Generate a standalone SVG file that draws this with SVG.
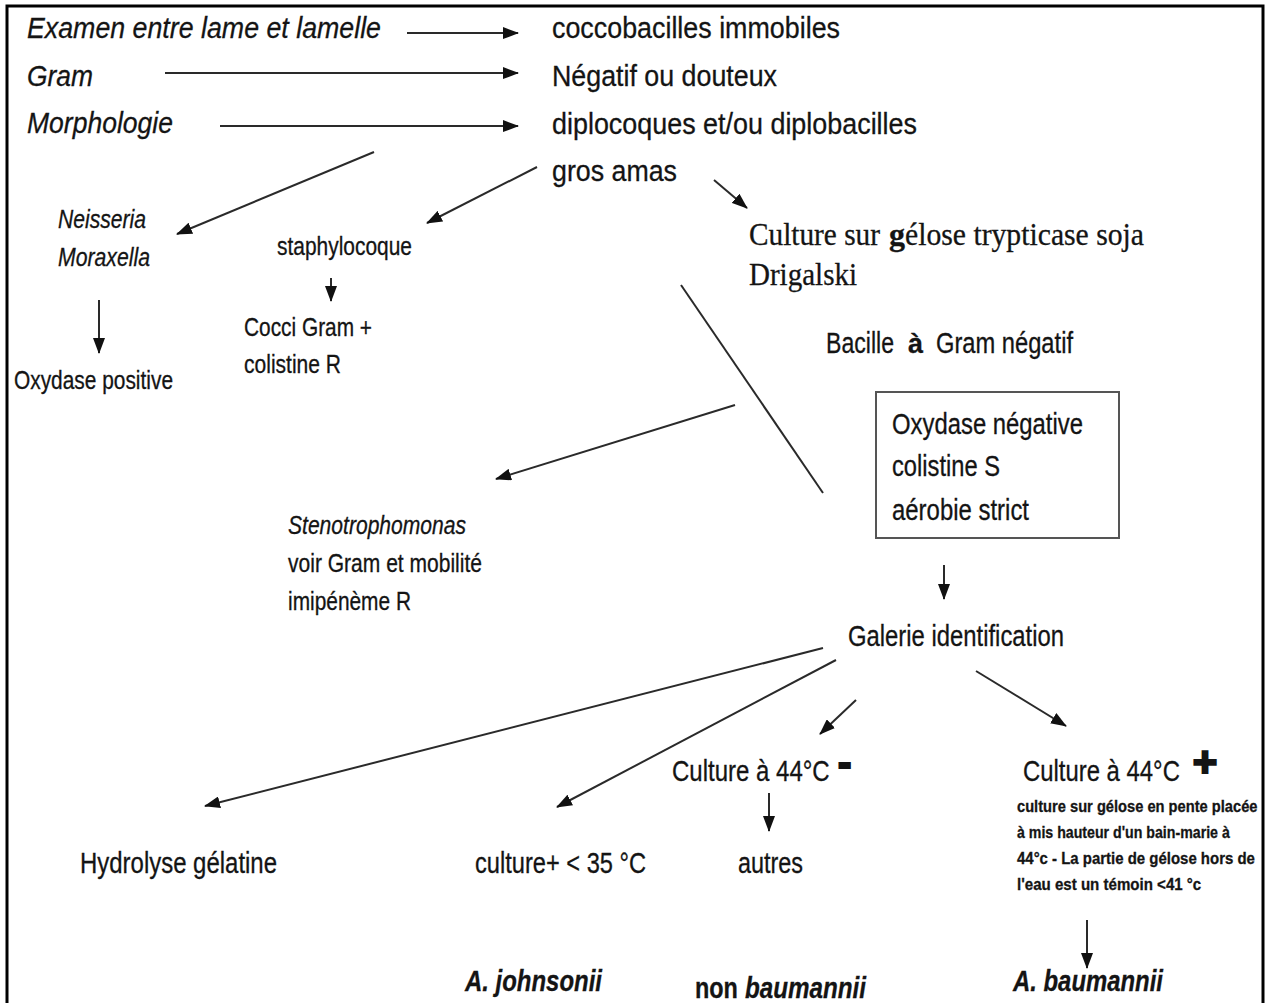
<svg xmlns="http://www.w3.org/2000/svg" width="1268" height="1003" viewBox="0 0 1268 1003">
<defs>
<style>
text{font-family:"Liberation Sans",Arial,sans-serif;fill:#141414;stroke:#141414;stroke-width:0.3;}
.i{font-style:italic;}
.b{font-weight:bold;}
.serif{font-family:"Liberation Serif","Times New Roman",serif;}
.sym{stroke-width:2.2;}
.c line{stroke:#2a2a2a;stroke-width:2;}
.arr{marker-end:url(#ah);}
</style>
<marker id="ah" viewBox="0 0 16 12" refX="15" refY="6" markerWidth="16" markerHeight="12" markerUnits="userSpaceOnUse" orient="auto">
<path d="M0,0 L16,6 L0,12 z" fill="#111"/>
</marker>
</defs>
<rect x="0" y="0" width="1268" height="1003" fill="#fff"/>
<rect x="7" y="6" width="1256" height="1010" fill="none" stroke="#000" stroke-width="3"/>

<g id="connectors" class="c">
<line class="arr" x1="407" y1="33" x2="518" y2="33"/>
<line class="arr" x1="165" y1="73" x2="518" y2="73"/>
<line class="arr" x1="220" y1="126" x2="518" y2="126"/>
<line class="arr" x1="374" y1="152" x2="177" y2="234"/>
<line class="arr" x1="537" y1="167" x2="427" y2="223"/>
<line class="arr" x1="714" y1="180" x2="747" y2="208"/>
<line class="arr" x1="99" y1="300" x2="99" y2="353"/>
<line class="arr" x1="331" y1="278" x2="331" y2="301"/>
<line x1="681" y1="285" x2="823" y2="493"/>
<line class="arr" x1="735" y1="405" x2="496" y2="479"/>
<line class="arr" x1="944" y1="565" x2="944" y2="599"/>
<line class="arr" x1="823" y1="648" x2="205" y2="806"/>
<line class="arr" x1="836" y1="660" x2="557" y2="807"/>
<line class="arr" x1="856" y1="700" x2="820" y2="734"/>
<line class="arr" x1="976" y1="671" x2="1066" y2="726"/>
<line class="arr" x1="769" y1="793" x2="769" y2="831"/>
<line class="arr" x1="1087" y1="920" x2="1087" y2="968"/>
</g>

<g id="n-examen"><text class="i" x="27" y="38" font-size="30" textLength="354" lengthAdjust="spacingAndGlyphs">Examen entre lame et lamelle</text></g>
<g id="n-gram"><text class="i" x="27" y="86" font-size="30" textLength="66" lengthAdjust="spacingAndGlyphs">Gram</text></g>
<g id="n-morpho"><text class="i" x="27" y="133" font-size="30" textLength="146" lengthAdjust="spacingAndGlyphs">Morphologie</text></g>
<g id="n-cocco"><text x="552" y="38" font-size="30" textLength="288" lengthAdjust="spacingAndGlyphs">coccobacilles immobiles</text></g>
<g id="n-negatif"><text x="552" y="86" font-size="30" textLength="225" lengthAdjust="spacingAndGlyphs">Négatif ou douteux</text></g>
<g id="n-diplo"><text x="552" y="134" font-size="30" textLength="365" lengthAdjust="spacingAndGlyphs">diplocoques et/ou diplobacilles</text></g>
<g id="n-gros"><text x="552" y="181" font-size="30" textLength="125" lengthAdjust="spacingAndGlyphs">gros amas</text></g>

<g id="n-neisseria">
<text class="i" x="58" y="228" font-size="25" textLength="88" lengthAdjust="spacingAndGlyphs">Neisseria</text>
<text class="i" x="58" y="266" font-size="25" textLength="92" lengthAdjust="spacingAndGlyphs">Moraxella</text>
</g>
<g id="n-oxpos"><text x="14" y="389" font-size="25" textLength="159" lengthAdjust="spacingAndGlyphs">Oxydase positive</text></g>
<g id="n-staph"><text x="277" y="255" font-size="25" textLength="135" lengthAdjust="spacingAndGlyphs">staphylocoque</text></g>
<g id="n-cocci">
<text x="244" y="336" font-size="26" textLength="128" lengthAdjust="spacingAndGlyphs">Cocci Gram +</text>
<text x="244" y="373" font-size="26" textLength="97" lengthAdjust="spacingAndGlyphs">colistine R</text>
</g>
<g id="n-culture-tsa">
<text class="serif" transform="translate(749,245) scale(0.916,1)" x="0" y="0" font-size="32" textLength="143" lengthAdjust="spacingAndGlyphs">Culture sur</text>
<text class="serif b" x="889" y="245" font-size="32">g</text>
<text class="serif" x="905" y="245" font-size="32" textLength="239" lengthAdjust="spacingAndGlyphs">élose trypticase soja</text>
<text class="serif" x="749" y="285" font-size="32" textLength="108" lengthAdjust="spacingAndGlyphs">Drigalski</text>
</g>
<g id="n-bacille">
<text transform="translate(826,353) scale(0.8,1)" x="0" y="0" font-size="29" textLength="85" lengthAdjust="spacingAndGlyphs">Bacille</text>
<text class="b" x="908" y="353" font-size="27">à</text>
<text x="936" y="353" font-size="29" textLength="137" lengthAdjust="spacingAndGlyphs">Gram négatif</text>
</g>
<g id="n-oxneg">
<rect x="876" y="392" width="243" height="146" fill="none" stroke="#555" stroke-width="2"/>
<text x="892" y="434" font-size="29" textLength="191" lengthAdjust="spacingAndGlyphs">Oxydase négative</text>
<text x="892" y="476" font-size="29" textLength="108" lengthAdjust="spacingAndGlyphs">colistine S</text>
<text x="892" y="520" font-size="29" textLength="137" lengthAdjust="spacingAndGlyphs">aérobie strict</text>
</g>
<g id="n-steno">
<text class="i" x="288" y="534" font-size="25" textLength="178" lengthAdjust="spacingAndGlyphs">Stenotrophomonas</text>
<text x="288" y="572" font-size="25" textLength="194" lengthAdjust="spacingAndGlyphs">voir Gram et mobilité</text>
<text x="288" y="610" font-size="25" textLength="123" lengthAdjust="spacingAndGlyphs">imipénème R</text>
</g>
<g id="n-galerie"><text x="848" y="646" font-size="29" textLength="216" lengthAdjust="spacingAndGlyphs">Galerie identification</text></g>
<g id="n-c44neg">
<text transform="translate(672,781) scale(0.83,1)" x="0" y="0" font-size="29" textLength="190" lengthAdjust="spacingAndGlyphs">Culture à 44°C</text>
<text class="b sym" x="838" y="776" font-size="40">-</text>
</g>
<g id="n-autres"><text x="738" y="873" font-size="29" textLength="65" lengthAdjust="spacingAndGlyphs">autres</text></g>
<g id="n-hydro"><text x="80" y="873" font-size="29" textLength="197" lengthAdjust="spacingAndGlyphs">Hydrolyse gélatine</text></g>
<g id="n-c35"><text x="475" y="873" font-size="29" textLength="171" lengthAdjust="spacingAndGlyphs">culture+ &lt; 35 °C</text></g>
<g id="n-c44pos">
<text transform="translate(1023,781) scale(0.83,1)" x="0" y="0" font-size="29" textLength="189" lengthAdjust="spacingAndGlyphs">Culture à 44°C</text>
<text class="b sym" x="1205" y="776" font-size="42" text-anchor="middle">+</text>
<text class="b" transform="translate(1017,812) scale(0.865,1)" x="0" y="0" font-size="17" textLength="278" lengthAdjust="spacingAndGlyphs">culture sur gélose en pente placée</text>
<text class="b" transform="translate(1017,838) scale(0.865,1)" x="0" y="0" font-size="17" textLength="246" lengthAdjust="spacingAndGlyphs">à mis hauteur d'un bain-marie à</text>
<text class="b" transform="translate(1017,864) scale(0.865,1)" x="0" y="0" font-size="17" textLength="275" lengthAdjust="spacingAndGlyphs">44°c - La partie de gélose hors de</text>
<text class="b" transform="translate(1017,890) scale(0.865,1)" x="0" y="0" font-size="17" textLength="213" lengthAdjust="spacingAndGlyphs">l'eau est un témoin &lt;41 °c</text>
</g>
<g id="n-baumannii"><text class="b i" x="1013" y="991" font-size="30" textLength="150" lengthAdjust="spacingAndGlyphs">A. baumannii</text></g>
<g id="n-johnsonii"><text class="b i" x="465" y="991" font-size="30" textLength="137" lengthAdjust="spacingAndGlyphs">A. johnsonii</text></g>
<g id="n-nonbau">
<text class="b" transform="translate(695,998) scale(0.81,1)" x="0" y="0" font-size="29" textLength="53" lengthAdjust="spacingAndGlyphs">non</text>
<text class="b i" transform="translate(745,998) scale(0.834,1)" x="0" y="0" font-size="29" textLength="145" lengthAdjust="spacingAndGlyphs">baumannii</text>
</g>
</svg>
